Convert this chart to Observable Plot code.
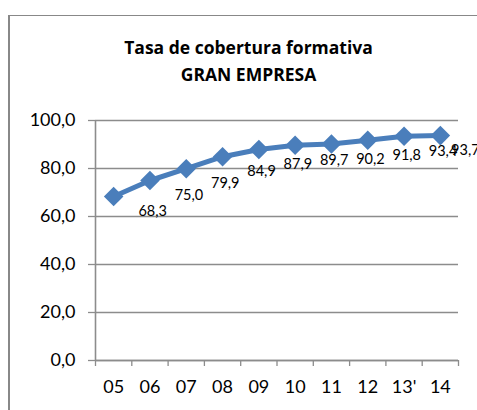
<!DOCTYPE html>
<html>
<head>
<meta charset="utf-8">
<script src="https://cdn.jsdelivr.net/npm/d3@7"></script>
<script src="https://cdn.jsdelivr.net/npm/@observablehq/plot@0.6"></script>
<style>
  html, body { margin: 0; padding: 0; background: #fff; }
  body { width: 477px; height: 410px; overflow: hidden; position: relative; font-family: Lato, "Open Sans", sans-serif; }
  #frame { position: absolute; left: 8px; top: 15px; width: 600px; height: 600px; border-left: 2px solid #888; border-top: 1px solid #888; box-sizing: border-box; }
  #title { position: absolute; left: 0; width: 497px; top: 34px; text-align: center; font-family: "Open Sans", sans-serif; font-weight: bold; font-size: 17.5px; line-height: 27px; color: #000; }
  #chart { position: absolute; left: 0; top: 0; }
</style>
</head>
<body>
<div id="frame"></div>
<div id="title">Tasa de cobertura formativa<br>GRAN EMPRESA</div>
<div id="chart"></div>
<script>
const categories = ["05", "06", "07", "08", "09", "10", "11", "12", "13'", "14"];
const values = [68.3, 75.0, 79.9, 84.9, 87.9, 89.7, 90.2, 91.8, 93.4, 93.7];
const yTicks = [0, 20, 40, 60, 80, 100];

const data = categories.map((c, i) => ({cat: c, idx: i + 0.5, value: values[i], last: i === categories.length - 1}));
const fmt = d => d.toFixed(1).replace(".", ",");
const blue = "#4a7ebb";
const grey = "#8c8c8c";

const chart = Plot.plot({
  width: 477,
  height: 410,
  marginLeft: 95,
  marginRight: 19,
  marginTop: 120,
  marginBottom: 50,
  style: {fontFamily: "Lato, 'Open Sans', sans-serif", background: "transparent", overflow: "visible"},
  x: {type: "linear", domain: [0, categories.length]},
  y: {domain: [0, 100]},
  marks: [
    Plot.gridY(yTicks, {stroke: grey, strokeOpacity: 1, strokeWidth: 1.3}),
    Plot.axisY(yTicks, {tickSize: 7, tickPadding: 13, stroke: grey, strokeWidth: 1.3, tickFormat: fmt, fontSize: 18, fill: "#000", label: null}),
    Plot.ruleX([0], {stroke: grey, strokeWidth: 1.6}),
    Plot.ruleY([0], {stroke: grey, strokeWidth: 1.3}),
    Plot.axisX(d3.range(categories.length + 1), {tickSize: 6, stroke: grey, strokeWidth: 1.3, tickFormat: () => "", label: null}),
    Plot.axisX(data.map(d => d.idx), {tickSize: 0, tickPadding: 20, tickFormat: v => categories[Math.floor(v)], fontSize: 18, fill: "#000", label: null}),
    Plot.line(data, {x: "idx", y: "value", stroke: blue, strokeWidth: 5}),
    Plot.dot(data, {x: "idx", y: "value", symbol: "square", r: 7.8, rotate: 45, fill: blue, stroke: "none"}),
    Plot.text(data.filter(d => !d.last), {x: "idx", y: "value", text: d => fmt(d.value), dx: 39, dy: 15, fontSize: 14.5, fill: "#000"}),
    Plot.text(data.filter(d => d.last), {x: "idx", y: "value", text: d => fmt(d.value), dx: 25, dy: 15, fontSize: 14.5, fill: "#000"})
  ]
});
document.getElementById("chart").appendChild(chart);
</script>
</body>
</html>
